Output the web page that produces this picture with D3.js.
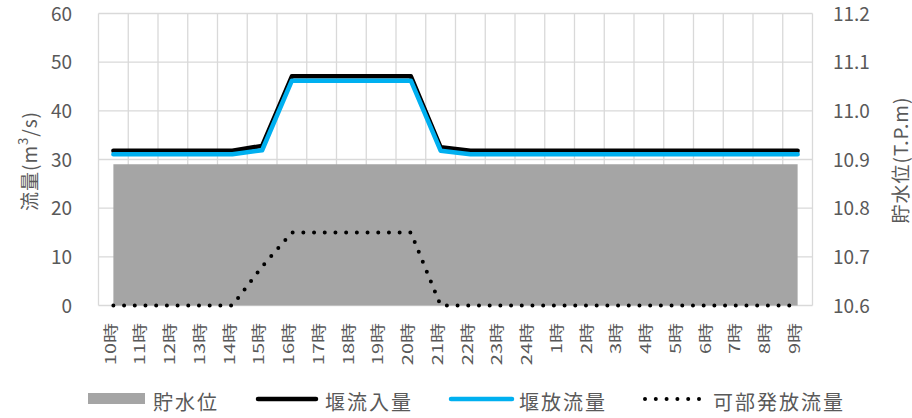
<!DOCTYPE html>
<html>
<head>
<meta charset="utf-8">
<script src="https://cdn.jsdelivr.net/npm/d3@7"></script>
<style>
  html, body { margin: 0; padding: 0; background: #fff; }
  svg { display: block; }
  text, tspan { font-family: "Noto Sans CJK JP", "Noto Sans", sans-serif; fill: #595959; }
</style>
</head>
<body>
<svg id="chart" width="912" height="418"></svg>
<script>
// Hourly categories (10時 through 24時, then 1時 through 9時)
const categories = ["10時","11時","12時","13時","14時","15時","16時","17時","18時","19時","20時","21時","22時","23時","24時",
                    "1時","2時","3時","4時","5時","6時","7時","8時","9時"];

// 堰流入量 (m3/s)
const inflow  = [31.8,31.8,31.8,31.8,31.8,32.8,47.1,47.1,47.1,47.1,47.1,32.5,31.8,31.8,31.8,
                 31.8,31.8,31.8,31.8,31.8,31.8,31.8,31.8,31.8];
// 堰放流量 (m3/s)
const outflow = [31.1,31.1,31.1,31.1,31.1,31.9,46.2,46.2,46.2,46.2,46.2,31.8,31.1,31.1,31.1,
                 31.1,31.1,31.1,31.1,31.1,31.1,31.1,31.1,31.1];
// 可部発放流量 (m3/s)
const kabe    = [0,0,0,0,0,8,15,15,15,15,15,0,0,0,0,
                 0,0,0,0,0,0,0,0,0];
// 貯水位 (T.P.m)
const level   = [10.89,10.89,10.89,10.89,10.89,10.89,10.89,10.89,10.89,10.89,10.89,10.89,10.89,10.89,10.89,
                 10.89,10.89,10.89,10.89,10.89,10.89,10.89,10.89,10.89];

const flowTicks  = [0,10,20,30,40,50,60];
const levelTicks = [10.6,10.7,10.8,10.9,11.0,11.1,11.2];

const svg = d3.select("#chart");
const plot = { left: 98.5, right: 812.5, top: 13.5, bottom: 305.5 };
const gridColor = "#d9d9d9";
const textColor = "#595959";

const x = d3.scaleBand().domain(categories).range([plot.left, plot.right]).paddingInner(0).paddingOuter(0);
const cx = d => x(d) + x.bandwidth() / 2;
const yL = d3.scaleLinear().domain([0, 60]).range([plot.bottom, plot.top]);
const yR = d3.scaleLinear().domain([10.6, 11.2]).range([plot.bottom, plot.top]);

// Gridlines
const grid = svg.append("g");
grid.selectAll("line.h").data(flowTicks).join("line")
  .attr("x1", plot.left).attr("x2", plot.right)
  .attr("y1", d => yL(d)).attr("y2", d => yL(d))
  .attr("stroke", gridColor).attr("stroke-width", 1.3);
const vEdges = categories.map(c => x(c)).concat([plot.right]);
grid.selectAll("line.v").data(vEdges).join("line")
  .attr("x1", d => d).attr("x2", d => d)
  .attr("y1", plot.top).attr("y2", plot.bottom)
  .attr("stroke", gridColor).attr("stroke-width", 1.3);

// 貯水位 area on the secondary axis
const area = d3.area().x((d, i) => cx(categories[i])).y0(yR(10.6)).y1(d => yR(d)).curve(d3.curveLinear);
svg.append("path").datum(level).attr("d", area).attr("fill", "#a5a5a5");

const line = ys => d3.line().x((d, i) => cx(categories[i])).y(d => ys(d));

// 堰流入量
svg.append("path").datum(inflow).attr("d", line(yL))
  .attr("fill", "none").attr("stroke", "#000").attr("stroke-width", 4.5)
  .attr("stroke-linejoin", "round").attr("stroke-linecap", "round");
// 堰放流量
svg.append("path").datum(outflow).attr("d", line(yL))
  .attr("fill", "none").attr("stroke", "#00b0f0").attr("stroke-width", 4.5)
  .attr("stroke-linejoin", "round").attr("stroke-linecap", "round");
// 可部発放流量
svg.append("path").datum(kabe).attr("d", line(yL))
  .attr("fill", "none").attr("stroke", "#000").attr("stroke-width", 4)
  .attr("stroke-dasharray", "0 10.7").attr("stroke-linecap", "round");

// Left axis labels
const axisL = d3.axisLeft(yL).tickValues(flowTicks).tickSize(0).tickPadding(0).tickFormat(d3.format("d"));
const gL = svg.append("g").attr("transform", "translate(72,0)").call(axisL);
gL.select(".domain").remove();
gL.selectAll("text").attr("font-size", 19).attr("fill", textColor)
  .attr("font-family", '"Noto Sans CJK JP", sans-serif').attr("dy", "0.35em");

// Right axis labels
const axisR = d3.axisRight(yR).tickValues(levelTicks).tickSize(0).tickPadding(0).tickFormat(d3.format(".1f"));
const gR = svg.append("g").attr("transform", "translate(833,0)").call(axisR);
gR.select(".domain").remove();
gR.selectAll("text").attr("font-size", 19).attr("fill", textColor)
  .attr("font-family", '"Noto Sans CJK JP", sans-serif').attr("dy", "0.35em");

// Category labels, rotated
svg.append("g").selectAll("text").data(categories).join("text")
  .attr("transform", d => `translate(${cx(d) - 4},323) rotate(-90) scale(1,0.74)`)
  .attr("text-anchor", "end").attr("dominant-baseline", "central")
  .attr("font-size", 20).attr("fill", textColor).text(d => d);

// Axis titles
const tL = svg.append("text")
  .attr("transform", "translate(28,161) rotate(-90)")
  .attr("text-anchor", "middle").attr("dominant-baseline", "central")
  .attr("font-size", 19).attr("letter-spacing", 1).attr("fill", textColor);
tL.append("tspan").attr("fill", textColor).text("流量(m");
tL.append("tspan").attr("fill", textColor).attr("font-size", 13).attr("dy", -6).text("3");
tL.append("tspan").attr("fill", textColor).attr("dy", 6).text("/s)");

svg.append("text")
  .attr("transform", "translate(899,160) rotate(-90)")
  .attr("text-anchor", "middle").attr("dominant-baseline", "central")
  .attr("font-size", 19).attr("letter-spacing", 1).attr("fill", textColor)
  .text("貯水位(T.P.m)");

// Legend
const legendY = 399;
const lg = svg.append("g");
lg.append("rect").attr("x", 88).attr("y", 393).attr("width", 57).attr("height", 11).attr("fill", "#a5a5a5");
lg.append("line").attr("x1", 258).attr("x2", 316).attr("y1", legendY).attr("y2", legendY)
  .attr("stroke", "#000").attr("stroke-width", 4.5).attr("stroke-linecap", "round");
lg.append("line").attr("x1", 451).attr("x2", 512).attr("y1", legendY).attr("y2", legendY)
  .attr("stroke", "#00b0f0").attr("stroke-width", 4.5).attr("stroke-linecap", "round");
lg.append("line").attr("x1", 645).attr("x2", 700).attr("y1", legendY).attr("y2", legendY)
  .attr("stroke", "#000").attr("stroke-width", 4).attr("stroke-dasharray", "0 10.8").attr("stroke-linecap", "round");
const legendText = [
  { x: 153, t: "貯水位" },
  { x: 325, t: "堰流入量" },
  { x: 519, t: "堰放流量" },
  { x: 713, t: "可部発放流量" }
];
lg.selectAll("text").data(legendText).join("text")
  .attr("x", d => d.x).attr("y", 401).attr("dominant-baseline", "central")
  .attr("font-size", 20).attr("letter-spacing", 2).attr("fill", textColor).text(d => d.t);
</script>
</body>
</html>
